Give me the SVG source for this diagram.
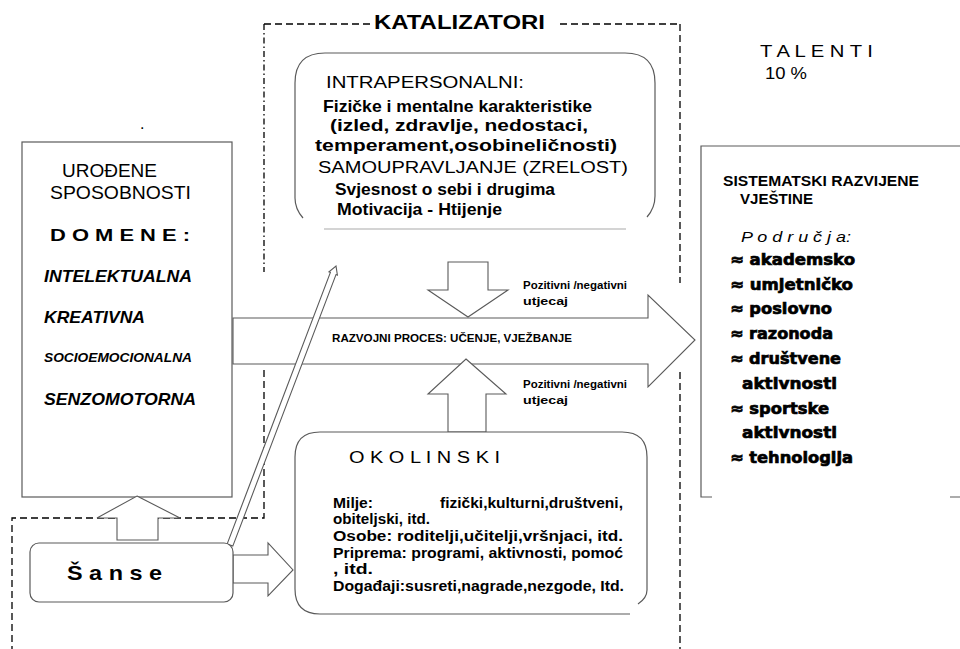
<svg xmlns="http://www.w3.org/2000/svg" width="960" height="649" viewBox="0 0 960 649">
<style>
text{font-family:"Liberation Sans",Arial,sans-serif;fill:#000}
.b{font-weight:bold}
.bi{font-weight:bold;font-style:italic}
.box{fill:#fff;stroke:#5a5a5a;stroke-width:1.2}
.open{fill:none;stroke:#5a5a5a;stroke-width:1.2}
.dash{fill:none;stroke:#000;stroke-width:1.3;stroke-dasharray:7 4}
.dashdot{fill:none;stroke:#000;stroke-width:1.3;stroke-dasharray:6 3 1.5 3}
.arr{fill:#fff;stroke:#5a5a5a;stroke-width:1.1;stroke-linejoin:miter}
.blk{font-family:"DejaVu Sans",sans-serif;font-weight:bold;font-size:16px;stroke:#000;stroke-width:0.7}
</style>
<rect width="960" height="649" fill="#fff"/>

<g id="katalizatori-frame">
<path class="dash" d="M264 24 H370 M560 24 H680"/>
<path class="dashdot" d="M264 24 V272"/>
<path class="dash" d="M264 370 V518 H12 V649"/>
<path class="dash" d="M680 24 V283 M680 372 V649"/>
<text class="b" x="374" y="29" font-size="20" textLength="171" lengthAdjust="spacingAndGlyphs">KATALIZATORI</text>
</g>

<g id="talenti">
<text x="760" y="57" font-size="16" textLength="113" lengthAdjust="spacingAndGlyphs">T A L E N T I</text>
<text x="765" y="79" font-size="16" textLength="42" lengthAdjust="spacingAndGlyphs">10 %</text>
</g>

<g id="urodjene">
<text x="140" y="129" font-size="16">.</text>
<rect class="box" x="22" y="142" width="210" height="355"/>
<text x="62" y="177" font-size="18" textLength="95" lengthAdjust="spacingAndGlyphs">UROĐENE</text>
<text x="50" y="199" font-size="18" textLength="141" lengthAdjust="spacingAndGlyphs">SPOSOBNOSTI</text>
<text class="b" x="50" y="241" font-size="17" textLength="140" lengthAdjust="spacingAndGlyphs">D O M E N E :</text>
<text class="bi" x="44" y="282" font-size="17" textLength="148" lengthAdjust="spacingAndGlyphs">INTELEKTUALNA</text>
<text class="bi" x="44" y="323" font-size="17" textLength="101" lengthAdjust="spacingAndGlyphs">KREATIVNA</text>
<text class="bi" x="44" y="362" font-size="12.5" textLength="148" lengthAdjust="spacingAndGlyphs">SOCIOEMOCIONALNA</text>
<text class="bi" x="44" y="405" font-size="17" textLength="152" lengthAdjust="spacingAndGlyphs">SENZOMOTORNA</text>
</g>

<g id="intrapersonalni">
<path class="box" d="M303 218 Q295 209 295 198 L295 83 Q295 53 325 53 L625 53 Q655 53 655 83 L655 196 Q655 208 647 217"/>
<line x1="324" y1="229" x2="626" y2="229" stroke="#aaa" stroke-width="1.2"/>
<text x="326" y="88" font-size="16" textLength="198" lengthAdjust="spacingAndGlyphs">INTRAPERSONALNI:</text>
<text class="b" x="323" y="112" font-size="16.5" textLength="269" lengthAdjust="spacingAndGlyphs">Fizičke i mentalne karakteristike</text>
<text class="b" x="330" y="131" font-size="16.5" textLength="258" lengthAdjust="spacingAndGlyphs">(izled, zdravlje, nedostaci,</text>
<text class="b" x="315" y="151" font-size="16.5" textLength="302" lengthAdjust="spacingAndGlyphs">temperament,osobineličnosti)</text>
<text x="318" y="173" font-size="16" textLength="310" lengthAdjust="spacingAndGlyphs">SAMOUPRAVLJANJE (ZRELOST)</text>
<text class="b" x="335" y="195" font-size="16" textLength="220" lengthAdjust="spacingAndGlyphs">Svjesnost o sebi i drugima</text>
<text class="b" x="337" y="215" font-size="16" textLength="165" lengthAdjust="spacingAndGlyphs">Motivacija - Htijenje</text>
</g>

<g id="connectors">
<polygon class="arr" points="233,318 648,318 648,295 695,340 648,387 648,364 233,364"/>
<polygon class="arr" points="448,262 488,262 488,290 508,290 468,317 428,290 448,290"/>
<polygon class="arr" points="466,359 506,394 486,394 486,432 448,432 448,394 428,394"/>
<polygon class="arr" points="137,496 180,518 158,518 158,540 117,540 117,518 97,518"/>
<polygon class="arr" points="233,555 268,555 268,543 293,570 268,596 268,583 233,583"/>
<polygon class="arr" points="227.2,543.9 330.4,272.4 329,271.9 336,266 337.4,275.1 336,274.6 232.8,546.1"/>
<text class="b" x="332" y="342" font-size="11" textLength="240" lengthAdjust="spacingAndGlyphs">RAZVOJNI PROCES: UČENJE, VJEŽBANJE</text>
<text class="b" x="523" y="289" font-size="10.5" textLength="104" lengthAdjust="spacingAndGlyphs">Pozitivni /negativni</text>
<text class="b" x="523" y="305" font-size="10.5" textLength="45" lengthAdjust="spacingAndGlyphs">utjecaj</text>
<text class="b" x="523" y="388" font-size="10.5" textLength="104" lengthAdjust="spacingAndGlyphs">Pozitivni /negativni</text>
<text class="b" x="523" y="404" font-size="10.5" textLength="45" lengthAdjust="spacingAndGlyphs">utjecaj</text>
</g>

<g id="sanse">
<rect class="box" x="30" y="543" width="203" height="59" rx="9"/>
<text class="b" x="67" y="580" font-size="21" textLength="95" lengthAdjust="spacingAndGlyphs">Š a n s e</text>
</g>

<g id="okolinski">
<path class="box" d="M630 614 L320 614 Q295 614 295 589 L295 457 Q295 432 320 432 L622 432 Q647 432 647 457 L647 590 Q647 598 638 604"/>
<text x="349" y="463" font-size="16" textLength="151" lengthAdjust="spacingAndGlyphs">O K O L I N S K I</text>
<text class="b" x="333" y="508" font-size="14.5" textLength="40" lengthAdjust="spacingAndGlyphs">Milje:</text>
<text class="b" x="440" y="508" font-size="14.5" textLength="183" lengthAdjust="spacingAndGlyphs">fizički,kulturni,društveni,</text>
<text class="b" x="333" y="524" font-size="14.5" textLength="97" lengthAdjust="spacingAndGlyphs">obiteljski, itd.</text>
<text class="b" x="333" y="541" font-size="14.5" textLength="290" lengthAdjust="spacingAndGlyphs">Osobe: roditelji,učitelji,vršnjaci, itd.</text>
<text class="b" x="333" y="558" font-size="14.5" textLength="290" lengthAdjust="spacingAndGlyphs">Priprema: programi, aktivnosti, pomoć</text>
<text class="b" x="333" y="574" font-size="14.5" textLength="40" lengthAdjust="spacingAndGlyphs">, itd.</text>
<text class="b" x="333" y="591" font-size="14.5" textLength="291" lengthAdjust="spacingAndGlyphs">Događaji:susreti,nagrade,nezgode, Itd.</text>
</g>

<g id="vjestine">
<path class="open" d="M712 497 H701 V146 H960 M950 497 H960"/>
<text class="b" x="723" y="186" font-size="14" textLength="196" lengthAdjust="spacingAndGlyphs">SISTEMATSKI RAZVIJENE</text>
<text class="b" x="740" y="204" font-size="14" textLength="73" lengthAdjust="spacingAndGlyphs">VJEŠTINE</text>
<text x="741" y="242" font-size="15" font-style="italic" textLength="110" lengthAdjust="spacingAndGlyphs">P o d r u č j a:</text>
<text class="blk" x="730" y="265" textLength="125" lengthAdjust="spacingAndGlyphs">≈ akademsko</text>
<text class="blk" x="730" y="290" textLength="123" lengthAdjust="spacingAndGlyphs">≈ umjetničko</text>
<text class="blk" x="730" y="314" textLength="102" lengthAdjust="spacingAndGlyphs">≈ poslovno</text>
<text class="blk" x="730" y="339" textLength="103" lengthAdjust="spacingAndGlyphs">≈ razonoda</text>
<text class="blk" x="730" y="364" textLength="111" lengthAdjust="spacingAndGlyphs">≈ društvene</text>
<text class="blk" x="742" y="389" textLength="95" lengthAdjust="spacingAndGlyphs">aktivnosti</text>
<text class="blk" x="730" y="414" textLength="99" lengthAdjust="spacingAndGlyphs">≈ sportske</text>
<text class="blk" x="742" y="438" textLength="95" lengthAdjust="spacingAndGlyphs">aktivnosti</text>
<text class="blk" x="730" y="463" textLength="123" lengthAdjust="spacingAndGlyphs">≈ tehnologija</text>
</g>
</svg>
